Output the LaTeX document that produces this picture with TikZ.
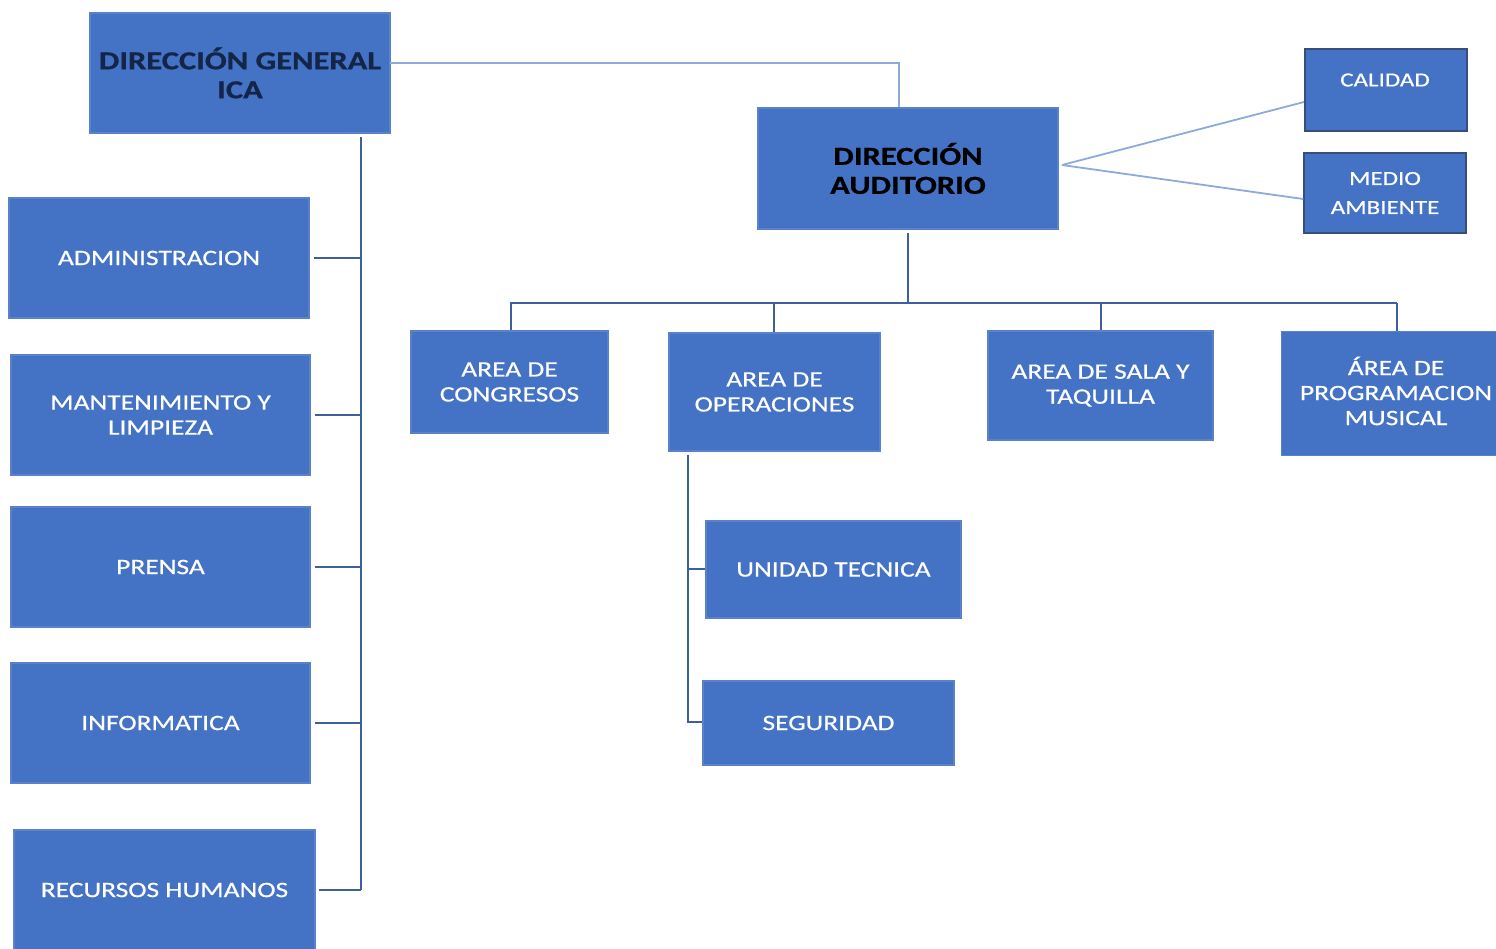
\documentclass[tikz,border=0pt]{standalone}
\usepackage{fontspec}
\setmainfont[FakeStretch=1.25,FakeBold=0.6]{Carlito}
\definecolor{boxfill}{HTML}{4472C4}
\definecolor{boxedge}{HTML}{5B82C9}
\definecolor{darkline}{HTML}{3C5F9E}
\definecolor{lightline}{HTML}{8EA9DB}
\definecolor{navytext}{HTML}{14254A}
\tikzset{
  orgbox/.style={draw=boxedge, line width=1.2pt, fill=boxfill, text=white, align=center,
    inner sep=0pt, font=\fontsize{22}{25}\selectfont},
  smallbox/.style={orgbox, draw=boxedge!60!black, line width=1.6pt, font=\fontsize{20}{29}\selectfont},
  headbox/.style={orgbox, font=\bfseries\fontsize{26}{29}\selectfont},
  darkconn/.style={draw=darkline, line width=2.6pt},
  lightconn/.style={draw=lightline, line width=1.8pt},
}
\newcommand{\obox}[7]{% style, name, x1, y1, x2, y2, text
  \node[#1, minimum width={(#5-#3)*1pt}, minimum height={(#6-#4)*1pt}] (#2) at ({(#3+#5)/2},{(#4+#6)/2}) {#7};}
\begin{document}
\begin{tikzpicture}[x=1pt,y=-1pt]
\useasboundingbox (0,0) rectangle (1496,948);
% top
\obox{headbox, text=navytext}{dg}{90}{13}{390}{133}{DIRECCIÓN GENERAL\\ICA}
\obox{headbox, text=black}{da}{758}{108}{1058}{229}{DIRECCIÓN\\AUDITORIO}
\node[smallbox, minimum width=162pt, minimum height=82pt, anchor=north west] (cal) at (1304,48) {};
\node[text=white, font=\fontsize{20}{29}\selectfont] (caltxt) at (1385,80) {CALIDAD};
\obox{smallbox}{med}{1304}{153}{1466}{233}{MEDIO\\AMBIENTE}
% left column
\obox{orgbox}{adm}{9}{198}{309}{318}{ADMINISTRACION}
\obox{orgbox}{mant}{11}{355}{310}{475}{MANTENIMIENTO Y\\LIMPIEZA}
\obox{orgbox}{pren}{11}{507}{310}{627}{PRENSA}
\obox{orgbox}{inf}{11}{663}{310}{783}{INFORMATICA}
\obox{orgbox}{rrhh}{14}{830}{315}{950}{RECURSOS HUMANOS}
% areas
\obox{orgbox}{cong}{411}{331}{608}{433}{AREA DE\\CONGRESOS}
\obox{orgbox}{oper}{669}{333}{880}{451}{AREA DE\\OPERACIONES}
\obox{orgbox}{sala}{988}{331}{1213}{440}{AREA DE SALA Y\\TAQUILLA}
\node[orgbox, minimum width=230pt, minimum height=124pt, anchor=north west] (prog) at (1281,331) {};
\node[text=white, align=center, font=\fontsize{22}{25}\selectfont] (progtxt) at (1396,391) {ÁREA DE\\PROGRAMACION\\MUSICAL};
\obox{orgbox}{ut}{706}{521}{961}{618}{UNIDAD TECNICA}
\obox{orgbox}{seg}{703}{681}{954}{765}{SEGURIDAD}
% connectors: DG -> DA
\coordinate (dgout) at (390,63);
\draw[lightconn] (dgout) -| ([xshift=-9pt]da.north);
% DA -> calidad / medio
\coordinate (dap) at (1062,165);
\draw[lightconn] (dap) -- (cal.west |- 0,102);
\draw[lightconn] (dap) -- (med.west |- 0,199);
% DG trunk
\coordinate (trunk) at (361,137);
\coordinate (trunkend) at (361,890);
\draw[darkconn] (trunk) -- (trunkend);
\foreach \n in {adm,mant,pren,inf}{
  \draw[darkconn] ([xshift=4pt]\n.east) -- (\n.east -| trunk);
}
\draw[darkconn] ([xshift=3pt]rrhh.east |- trunkend) -- (trunkend);
% DA tree
\coordinate (bar) at (908,303);
\draw[darkconn] ([yshift=-3pt]da.south) -- (bar);
\draw[darkconn] (cong.north -| 511,0) -- (511,303) -- (1397,303);
\draw[darkconn] (774,303) -- (oper.north -| 774,0);
\draw[darkconn] (1101,303) -- (sala.north -| 1101,0);
\draw[darkconn] (1397,303) -- (prog.north -| 1397,0);
% operaciones subtree
\coordinate (opv) at (688,455);
\draw[darkconn] (opv) -- (688,722) -- (seg.west |- 0,722);
\draw[darkconn] (688,569) -- (ut.west |- 0,569);
\end{tikzpicture}
\end{document}
